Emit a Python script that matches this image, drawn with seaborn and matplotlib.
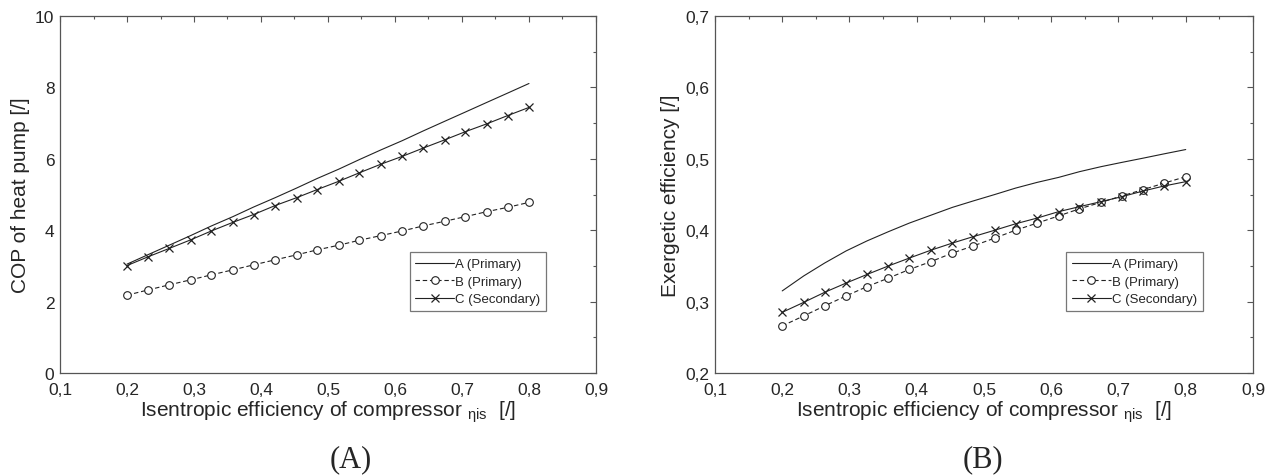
import matplotlib
matplotlib.use("Agg")
import matplotlib.pyplot as plt
import pandas as pd
import seaborn as sb
from matplotlib.ticker import MultipleLocator, FuncFormatter

# isentropic efficiency of compressor (20 points)
eta = [0.200, 0.232, 0.263, 0.295, 0.326, 0.358, 0.389, 0.421, 0.453, 0.484,
       0.516, 0.547, 0.579, 0.611, 0.642, 0.674, 0.705, 0.737, 0.768, 0.800]

# (A) COP of heat pump
cop_a = [3.05, 3.32, 3.58, 3.85, 4.12, 4.38, 4.65, 4.91, 5.18, 5.45,
         5.71, 5.98, 6.25, 6.51, 6.78, 7.05, 7.31, 7.58, 7.84, 8.11]
cop_b = [2.18, 2.33, 2.47, 2.61, 2.75, 2.89, 3.03, 3.17, 3.31, 3.45,
         3.58, 3.72, 3.85, 3.98, 4.12, 4.25, 4.38, 4.52, 4.64, 4.78]
cop_c = [3.01, 3.26, 3.49, 3.73, 3.98, 4.22, 4.44, 4.69, 4.91, 5.14,
         5.37, 5.61, 5.85, 6.07, 6.30, 6.53, 6.76, 6.98, 7.21, 7.44]

# (B) exergetic efficiency
ex_a = [0.315, 0.336, 0.354, 0.371, 0.385, 0.398, 0.410, 0.421, 0.432, 0.441,
        0.450, 0.459, 0.467, 0.474, 0.482, 0.489, 0.495, 0.501, 0.507, 0.513]
ex_b = [0.266, 0.280, 0.294, 0.308, 0.321, 0.333, 0.345, 0.356, 0.368, 0.378,
        0.389, 0.400, 0.410, 0.420, 0.430, 0.439, 0.448, 0.457, 0.466, 0.475]
ex_c = [0.285, 0.299, 0.313, 0.326, 0.338, 0.350, 0.361, 0.372, 0.382, 0.391,
        0.400, 0.409, 0.417, 0.426, 0.433, 0.440, 0.447, 0.455, 0.462, 0.468]

labels = ["A (Primary)", "B (Primary)", "C (Secondary)"]

sb.set_style("white")
plt.rcParams["font.family"] = ["Liberation Sans", "DejaVu Sans"]
plt.rcParams["mathtext.fontset"] = "custom"
plt.rcParams["mathtext.rm"] = "Liberation Sans"

fig = plt.figure(figsize=(12.74, 4.77), dpi=100)
axA = fig.add_axes([0.0471, 0.2159, 0.4207, 0.7484])
axB = fig.add_axes([0.5612, 0.2159, 0.4223, 0.7484])

comma = FuncFormatter(lambda v, p: ("%g" % round(v, 3)).replace(".", ","))
xlab = r"Isentropic efficiency of compressor $_{\mathregular{\eta is}}$  [/]"


def draw(ax, ya, yb, yc):
    df = pd.DataFrame({"x": eta, "a": ya, "b": yb, "c": yc})
    sb.lineplot(data=df, x="x", y="a", ax=ax, color="#222222", lw=0.8,
                label=labels[0])
    sb.lineplot(data=df, x="x", y="b", ax=ax, color="#222222", lw=0.8,
                ls=(0, (4, 2.5)), marker="o", markersize=5.5,
                markerfacecolor="white", markeredgecolor="#222222",
                markeredgewidth=0.8, label=labels[1])
    sb.lineplot(data=df, x="x", y="c", ax=ax, color="#222222", lw=0.8,
                marker="x", markersize=6, markeredgewidth=0.9,
                markeredgecolor="#222222", label=labels[2])
    ax.set_xlim(0.1, 0.9)
    ax.xaxis.set_major_locator(MultipleLocator(0.1))
    ax.xaxis.set_minor_locator(MultipleLocator(0.05))
    ax.xaxis.set_major_formatter(comma)
    ax.yaxis.set_major_formatter(comma)
    ax.tick_params(which="both", direction="in", top=True, right=True,
                   labelsize=12.5, color="#555555", width=0.8)
    ax.tick_params(axis="x", which="both", pad=6.5)
    ax.tick_params(axis="y", which="both", pad=4)
    ax.tick_params(which="major", length=4)
    ax.tick_params(which="minor", length=2.5)
    for s in ax.spines.values():
        s.set_color("#555555")
        s.set_linewidth(0.9)
    ax.set_xlabel(xlab, fontsize=15, labelpad=1)
    leg = ax.legend(loc="upper right", bbox_to_anchor=(0.907, 0.339),
                    fontsize=9.5, frameon=True, fancybox=False,
                    handlelength=2.9, borderpad=0.45, labelspacing=0.4,
                    handletextpad=0.1, borderaxespad=0)
    leg.get_frame().set_edgecolor("#555555")
    leg.get_frame().set_linewidth(0.9)


draw(axA, cop_a, cop_b, cop_c)
axA.set_ylim(0, 10)
axA.yaxis.set_major_locator(MultipleLocator(2))
axA.yaxis.set_minor_locator(MultipleLocator(1))
axA.set_ylabel("COP of heat pump [/]", fontsize=15, labelpad=4)

draw(axB, ex_a, ex_b, ex_c)
axB.set_ylim(0.2, 0.7)
axB.yaxis.set_major_locator(MultipleLocator(0.1))
axB.yaxis.set_minor_locator(MultipleLocator(0.05))
axB.set_ylabel("Exergetic efficiency [/]", fontsize=15, labelpad=4)

fig.text(351 / 1274, 1 - 460 / 477, "(A)", family="Liberation Serif",
         fontsize=22, ha="center", va="center")
fig.text(983 / 1274, 1 - 460 / 477, "(B)", family="Liberation Serif",
         fontsize=22, ha="center", va="center")

plt.savefig("out.png", dpi=100)
